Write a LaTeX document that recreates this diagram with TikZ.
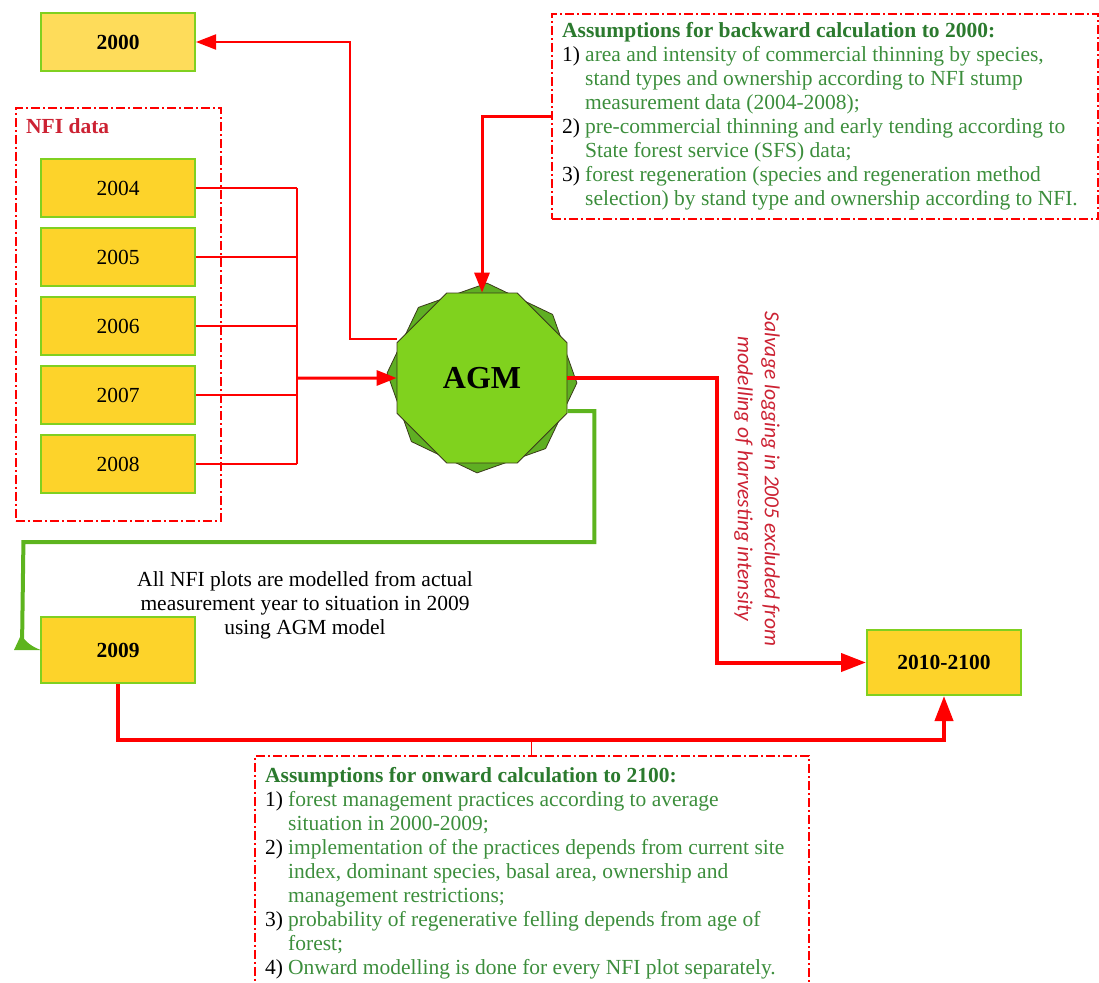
\documentclass[tikz,border=0pt]{standalone}
\usepackage{fontspec}
\setmainfont{Liberation Serif}
\newfontfamily\salvfont{Carlito}
\usetikzlibrary{arrows.meta,shapes.geometric,calc}
\definecolor{boxfill}{HTML}{FDD32A}
\definecolor{boxfilllight}{HTML}{FEDC5A}
\definecolor{boxborder}{HTML}{80D020}
\definecolor{linered}{HTML}{FF0000}
\definecolor{crimson}{HTML}{CC2233}
\definecolor{titlegreen}{HTML}{2B7A2E}
\definecolor{itemgreen}{HTML}{3C8E3C}
\definecolor{flowgreen}{HTML}{5DB41E}
\definecolor{agmfront}{HTML}{80D21E}
\definecolor{agmbackc}{HTML}{5FAF23}
\definecolor{agmline}{HTML}{3A3A1A}
\newcommand{\asnum}[1]{\makebox[23pt][l]{\textcolor{black}{#1}}}
\newcommand{\asind}{\hspace*{23pt}}
\begin{document}
\begin{tikzpicture}[x=1pt,y=-1pt,
  txt/.style={font=\fontsize{21.5}{24}\selectfont},
  yearbox/.style={draw=boxborder, line width=2pt, fill=boxfill, minimum width=154pt, minimum height=58pt, inner sep=0pt, txt},
  dashbox/.style={draw=linered, line width=1.8pt, dash pattern=on 9pt off 3pt on 2pt off 3pt, inner sep=0pt},
  thinline/.style={draw=linered, line width=2pt},
  medline/.style={draw=linered, line width=3pt},
  thickline/.style={draw=linered, line width=4pt},
  greenline/.style={draw=flowgreen, line width=4pt},
  tipS/.style={-{Triangle[length=20pt,width=15pt]}},
  tipL/.style={-{Triangle[length=25pt,width=18pt]}},
  octo/.style={regular polygon, regular polygon sides=8, draw=agmline, line width=0.8pt, inner sep=0pt},
]
\useasboundingbox (0,0) rectangle (1099,982);

% AGM
\node[octo, shape border rotate=19.5, minimum size=190pt, fill=agmbackc] (agmback) at (482,378) {};
\node[octo, minimum size=184pt, fill=agmfront, font=\bfseries\fontsize{32}{36}\selectfont] (agm) at (482,378) {AGM};

% year boxes
\node[yearbox, fill=boxfilllight] (b2000) at (118,42) {\textbf{2000}};
\node[yearbox] (b2004) at (118,188) {2004};
\node[yearbox] (b2005) at (118,257) {2005};
\node[yearbox] (b2006) at (118,326) {2006};
\node[yearbox] (b2007) at (118,395) {2007};
\node[yearbox] (b2008) at (118,464) {2008};
\node[yearbox, minimum height=66pt] (b2009) at (118,650) {\textbf{2009}};
\node[yearbox, minimum height=65pt] (b2100) at (944,662.5) {\textbf{2010-2100}};

% NFI data group
\node[dashbox, minimum width=205pt, minimum height=413pt, anchor=north west] (nfibox) at (15,107) {};
\node[txt, anchor=base west, inner sep=0pt, text=crimson] (nfilabel) at (26,133) {\textbf{NFI data}};

% backward assumptions
\node[dashbox, minimum width=546pt, minimum height=205pt, anchor=north west] (backbox) at (551,13) {};
\node[txt, anchor=north west, align=left, inner sep=0pt, text=itemgreen] (backtxt) at (562,22) {%
\textcolor{titlegreen}{\textbf{Assumptions for backward calculation to 2000:}}\\
\asnum{1)}area and intensity of commercial thinning by species,\\
\asind stand types and ownership according to NFI stump\\
\asind measurement data (2004-2008);\\
\asnum{2)}pre-commercial thinning and early tending according to\\
\asind State forest service (SFS) data;\\
\asnum{3)}forest regeneration (species and regeneration method\\
\asind selection) by stand type and ownership according to NFI.};

% onward assumptions
\node[dashbox, minimum width=554pt, minimum height=245pt, anchor=north west] (onbox) at (254,755) {};
\node[txt, anchor=north west, align=left, inner sep=0pt, text=itemgreen] (ontxt) at (265,767) {%
\textcolor{titlegreen}{\textbf{Assumptions for onward calculation to 2100:}}\\
\asnum{1)}forest management practices according to average\\
\asind situation in 2000-2009;\\
\asnum{2)}implementation of the practices depends from current site\\
\asind index, dominant species, basal area, ownership and\\
\asind management restrictions;\\
\asnum{3)}probability of regenerative felling depends from age of\\
\asind forest;\\
\asnum{4)}Onward modelling is done for every NFI plot separately.};

% notes
\node[txt, align=center, inner sep=0pt] (note) at (305,605) {All NFI plots are modelled from actual\\measurement year to situation in 2009\\using AGM model};
\node[rotate=-90, align=center, inner sep=0pt, text=crimson, font=\salvfont\itshape\fontsize{21.5}{27}\selectfont] (salv) at (757,479) {Salvage logging in 2005 excluded from\\modelling of harvesting intensity};

% connectors NFI -> AGM
\coordinate (bus) at (297,378);
\foreach \b in {2004,2005,2006,2007,2008} \draw[thinline] (b\b.east) -- (b\b.east -| bus);
\draw[thinline] (b2004.east -| bus) -- (b2008.east -| bus);
\draw[medline, tipS] (bus) -- (agm.west);

% AGM -> 2000
\coordinate (agm2000) at ($(agm.west)+(0,-39)$);
\draw[thinline, tipS] (agm2000) -- ++(-47,0) |- (b2000.east);

% backward assumptions -> AGM
\draw[medline, tipS] (backbox.west) -| (agm.north);

% AGM -> 2010-2100
\draw[thickline, tipL] (agm.east) -- ++(150,0) |- (b2100.west);

% 2009 -> 2010-2100
\draw[thickline, tipL] (b2009.south) -- ++(0,56) -| (b2100.south);
\draw[linered, line width=1pt] (onbox.north) -- ++(0,-16);

% AGM -> 2009 (green)
\coordinate (greenstart) at ($(agm.east)+(0,33)$);
\coordinate (greenend) at (22,648);
\draw[greenline] (greenstart) -- ++(27,0) -- ++(0,131) -- ++(-571,0) -- (greenend);
\fill[flowgreen] (14,650) -- (21,635) .. controls (26,642) and (32,647) .. (41,650) -- cycle;
\end{tikzpicture}
\end{document}
